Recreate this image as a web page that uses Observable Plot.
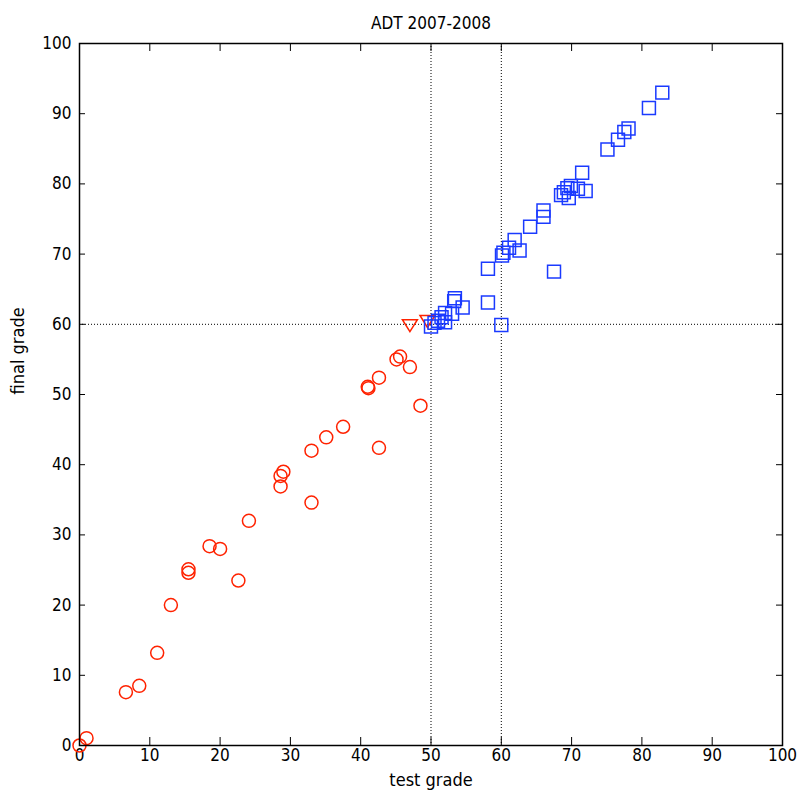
<!DOCTYPE html>
<html>
<head>
<meta charset="utf-8">
<script src="https://cdn.jsdelivr.net/npm/d3@7"></script>
<script src="https://cdn.jsdelivr.net/npm/@observablehq/plot@0.6"></script>
<style>
  html, body { margin: 0; padding: 0; background: #fff; }
  svg { display: block; }
</style>
</head>
<body>
<div id="chart"></div>
<script>
const title = "ADT 2007-2008";
const xLabel = "test grade";
const yLabel = "final grade";
const tickValues = [0, 10, 20, 30, 40, 50, 60, 70, 80, 90, 100];
const thresholdsX = [50, 60];
const thresholdsY = [60];

// failing (red circles)
const failX = [0, 1.0, 6.6, 8.5, 11.05, 13.0, 15.5, 15.5, 18.5, 20.0, 22.6, 24.1, 28.6, 29.0, 28.6, 33.0, 33.0, 35.1, 37.5, 42.6, 41.1, 41.0, 42.6, 45.1, 45.6, 47.0, 48.5];
const failY = [0, 1.05, 7.6, 8.5, 13.2, 20.0, 25.1, 24.6, 28.4, 28.0, 23.5, 32.0, 38.4, 39.0, 36.9, 34.6, 42.0, 43.9, 45.4, 42.4, 50.9, 51.1, 52.4, 55.0, 55.4, 53.9, 48.4];

// borderline (red triangles)
const borderX = [47.0, 49.5];
const borderY = [59.8, 60.4];

// passing (blue squares)
const passX = [82.9, 81.0, 78.1, 77.5, 76.6, 75.1, 71.5, 72.0, 70.9, 69.9, 69.4, 68.9, 68.5, 69.6, 66.0, 66.0, 64.1, 61.9, 61.1, 62.6, 60.1, 60.3, 58.1, 67.5, 58.1, 60.0, 53.4, 53.3, 54.5, 53.0, 52.0, 51.5, 51.0, 52.0, 50.5, 50.0];
const passY = [93.0, 90.8, 87.9, 87.4, 86.3, 84.9, 81.6, 79.0, 79.3, 79.7, 79.4, 78.8, 78.4, 78.0, 76.2, 75.3, 73.9, 72.0, 70.9, 70.5, 69.8, 70.2, 67.9, 67.5, 63.1, 59.9, 63.7, 63.3, 62.4, 61.5, 61.6, 61.0, 60.5, 60.3, 60.2, 59.7];

const fail = failX.map((x, i) => ({x, y: failY[i]}));
const border = borderX.map((x, i) => ({x, y: borderY[i]}));
const pass = passX.map((x, i) => ({x, y: passY[i]}));

const triangleDown = {
  draw(ctx, size) {
    const a = Math.sqrt(size / Math.PI);
    const h = a * 0.8;
    ctx.moveTo(-a, -h);
    ctx.lineTo(a, -h);
    ctx.lineTo(0, h);
    ctx.closePath();
  }
};

const font = "'Liberation Sans Narrow', 'DejaVu Sans Condensed', 'Liberation Sans', sans-serif";
const red = "#ff2200";
const blue = "#1a3aff";

const chart = Plot.plot({
  width: 800,
  height: 798,
  marginLeft: 79,
  marginRight: 18,
  marginTop: 43,
  marginBottom: 53,
  style: {fontFamily: font, fontSize: "17px", background: "#fff", color: "#000"},
  x: {domain: [0, 100]},
  y: {domain: [0, 100]},
  marks: [
    Plot.ruleX(thresholdsX, {stroke: "#000", strokeWidth: 1, strokeDasharray: "1,2"}),
    Plot.ruleY(thresholdsY, {stroke: "#000", strokeWidth: 1, strokeDasharray: "1,2"}),
    // inward ticks on all four sides
    Plot.tickX(tickValues, {x: d => d, insetTop: 694, stroke: "#000", strokeWidth: 1}),
    Plot.tickX(tickValues, {x: d => d, insetBottom: 694, stroke: "#000", strokeWidth: 1}),
    Plot.tickY(tickValues, {y: d => d, insetRight: 697, stroke: "#000", strokeWidth: 1}),
    Plot.tickY(tickValues, {y: d => d, insetLeft: 697, stroke: "#000", strokeWidth: 1}),
    Plot.axisX(tickValues, {tickSize: 0, tickPadding: 3, fontSize: 17, label: null, tickFormat: d => String(d)}),
    Plot.axisY(tickValues, {tickSize: 0, tickPadding: 8, fontSize: 17, label: null, tickFormat: d => String(d)}),
    Plot.dot(fail, {x: "x", y: "y", r: 6.5, stroke: red, strokeWidth: 1.5, fill: "none"}),
    Plot.dot(border, {x: "x", y: "y", r: 7.5, symbol: triangleDown, stroke: red, strokeWidth: 1.5, fill: "none"}),
    Plot.dot(pass, {x: "x", y: "y", r: 7.3, symbol: "square", stroke: blue, strokeWidth: 1.5, fill: "none"}),
    Plot.frame({stroke: "#000", strokeWidth: 1.5}),
    Plot.text([title], {frameAnchor: "top", dy: -27, fontSize: 17, fill: "#000"}),
    Plot.text([xLabel], {frameAnchor: "bottom", dy: 40, fontSize: 18, fill: "#000"}),
    Plot.text([yLabel], {frameAnchor: "left", dx: -61, rotate: -90, fontSize: 18, fill: "#000"})
  ]
});

document.getElementById("chart").appendChild(chart);
</script>
</body>
</html>
